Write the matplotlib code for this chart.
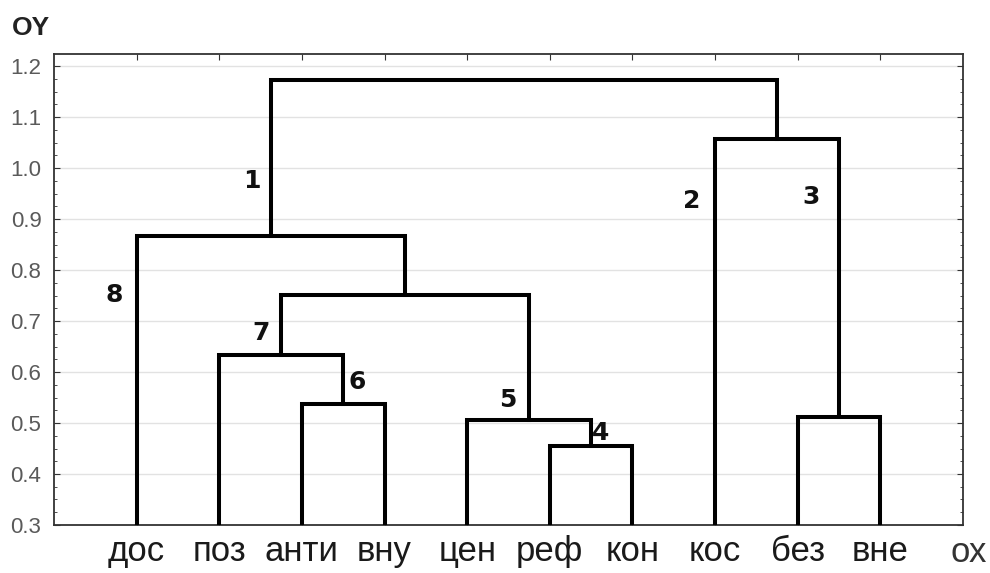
# Dendrogram (tree clustering) redrawn from reference picture
import matplotlib
matplotlib.use('Agg')
import matplotlib.pyplot as plt
from matplotlib.ticker import MultipleLocator, AutoMinorLocator

# leaves along OX, left to right
leaves = ['дос', 'поз', 'анти', 'вну', 'цен', 'реф', 'кон', 'кос', 'без', 'вне']

# merges: cluster ids 0..9 are leaves, 10.. are new clusters in this order
merge_a = [5, 4, 8, 2, 1, 14, 0, 7, 16]
merge_b = [6, 10, 9, 3, 13, 11, 15, 12, 17]
merge_h = [0.454, 0.506, 0.511, 0.538, 0.633, 0.752, 0.866, 1.058, 1.172]

# node numbers written near the branches
node_nums = ['1', '2', '3', '4', '5', '6', '7', '8']
node_x = [2.40, 7.72, 9.16, 6.62, 5.49, 3.67, 2.51, 0.73]
node_y = [0.974, 0.935, 0.943, 0.481, 0.546, 0.581, 0.676, 0.752]

fig = plt.figure(figsize=(9.9, 5.73), dpi=100)
ax = fig.add_axes([0.0545, 0.0838, 0.9183, 0.822])

base = 0.3
xpos = {i: i + 1 for i in range(len(leaves))}
ypos = {i: base for i in range(len(leaves))}
for k in range(len(merge_h)):
    a, b, h = merge_a[k], merge_b[k], merge_h[k]
    ax.plot([xpos[a], xpos[a], xpos[b], xpos[b]],
            [ypos[a], h, h, ypos[b]],
            color='black', lw=2.9, solid_joinstyle='miter', zorder=3)
    cid = len(leaves) + k
    xpos[cid] = (xpos[a] + xpos[b]) / 2
    ypos[cid] = h

for t, x, y in zip(node_nums, node_x, node_y):
    ax.text(x, y, t, fontsize=18, fontweight='bold', family='DejaVu Sans',
            ha='center', va='center', color='#111111')

ax.set_xlim(0, 11)
ax.set_ylim(0.3, 1.224)
ax.set_xticks(range(1, len(leaves) + 1))
ax.set_xticklabels(leaves, fontsize=25, family='Liberation Sans', color='#1a1a1a')
ax.yaxis.set_major_locator(MultipleLocator(0.1))
ax.yaxis.set_minor_locator(AutoMinorLocator(4))
ax.set_yticks([0.3 + 0.1 * i for i in range(10)])
ax.set_yticklabels(['%.1f' % (0.3 + 0.1 * i) for i in range(10)],
                   fontsize=16, family='Liberation Sans', color='#5a5a5a')

ax.tick_params(axis='both', which='both', direction='in', top=True, right=True,
               color='#333333')
ax.tick_params(axis='x', length=4, pad=7)
ax.tick_params(axis='y', which='major', length=4, pad=9)
ax.tick_params(axis='y', which='minor', length=2)
ax.grid(axis='y', which='major', color='#e2e2e2', lw=1)
ax.set_axisbelow(True)
for s in ax.spines.values():
    s.set_color('#333333')
    s.set_linewidth(1.3)

fig.text(12 / 990, 1 - 28 / 573, 'OY', fontsize=19, fontweight='bold',
         family='Liberation Sans', color='#222222', va='center', ha='left')
fig.text(950 / 990, 1 - 553 / 573, 'ох', fontsize=25,
         family='Liberation Sans', color='#333333', va='center', ha='left')

fig.savefig('out.png', dpi=100)
